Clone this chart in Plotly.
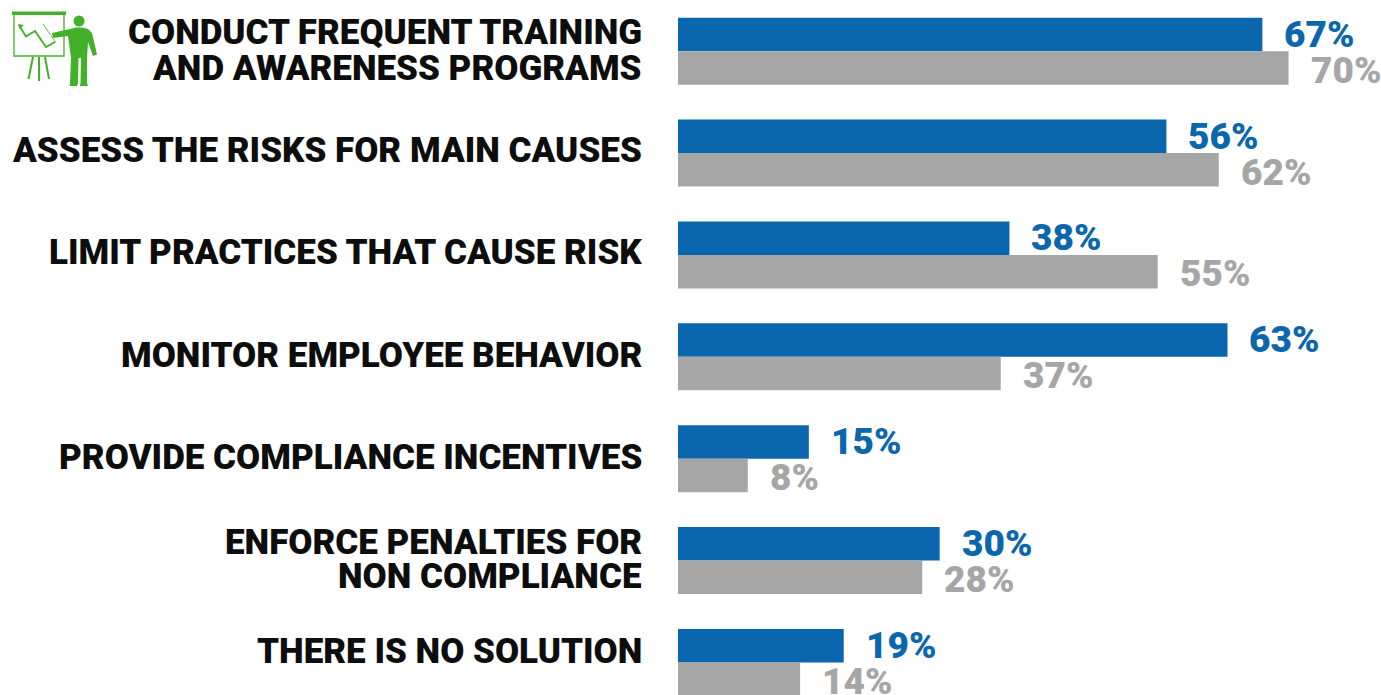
import plotly.graph_objects as go

categories = ["CONDUCT FREQUENT TRAINING AND AWARENESS PROGRAMS", "ASSESS THE RISKS FOR MAIN CAUSES",
              "LIMIT PRACTICES THAT CAUSE RISK", "MONITOR EMPLOYEE BEHAVIOR",
              "PROVIDE COMPLIANCE INCENTIVES", "ENFORCE PENALTIES FOR NON COMPLIANCE", "THERE IS NO SOLUTION"]
label_lines = [["CONDUCT FREQUENT TRAINING", "AND AWARENESS PROGRAMS"], ["ASSESS THE RISKS FOR MAIN CAUSES"],
               ["LIMIT PRACTICES THAT CAUSE RISK"], ["MONITOR EMPLOYEE BEHAVIOR"],
               ["PROVIDE COMPLIANCE INCENTIVES"], ["ENFORCE PENALTIES FOR", "NON COMPLIANCE"], ["THERE IS NO SOLUTION"]]
blue_values = [67, 56, 38, 63, 15, 30, 19]
gray_values = [70, 62, 55, 37, 8, 28, 14]
label_shifts = [[19, -17], [3], [2], [1], [1], [18, -16], [11]]
BLUE = "#0b67ad"
GRAY = "#a6a6a6"
GREEN = "#43b02a"
INK = "#0d0d0d"
FONT = "Roboto, Liberation Sans, sans-serif"
W, H = 1381, 695
LEFT = 678

fig = go.Figure()
for vals, col in [(blue_values, BLUE), (gray_values, GRAY)]:
    fig.add_trace(go.Bar(y=categories, x=vals, orientation="h", marker=dict(color=col, line=dict(width=0)),
                         hoverinfo="skip"))

annotations = []
for cat, b, g in zip(categories, blue_values, gray_values):
    annotations.append(dict(x=b, y=cat, yref="y", xref="x", text=f"{b}%", showarrow=False, xanchor="left",
                            xshift=20, yshift=17, font=dict(size=37, color=BLUE, family=FONT, weight=900)))
    annotations.append(dict(x=g, y=cat, yref="y", xref="x", text=f"{g}%", showarrow=False, xanchor="left",
                            xshift=20, yshift=-19, font=dict(size=37, color=GRAY, family=FONT, weight=900)))
for cat, lines, shifts in zip(categories, label_lines, label_shifts):
    for line, s in zip(lines, shifts):
        annotations.append(dict(x=0, y=cat, yref="y", xref="x", text=line, showarrow=False, xanchor="right",
                                xshift=-34, yshift=s, font=dict(size=35, color=INK, family=FONT, weight=900)))


def px(x):
    return (x - LEFT) / (W - LEFT)


def py(y):
    return 1 - y / H


def path(points, close=True):
    s = "M " + " L ".join(f"{px(x):.5f},{py(y):.5f}" for x, y in points)
    return s + (" Z" if close else "")


def line_shape(points, width, color=GREEN):
    return dict(type="path", xref="paper", yref="paper", path=path(points, False),
                line=dict(color=color, width=width), fillcolor="rgba(0,0,0,0)")


def fill_shape(points):
    return dict(type="path", xref="paper", yref="paper", path=path(points),
                line=dict(width=0), fillcolor=GREEN)


shapes = [
    fill_shape([(12, 11.5), (66, 11.5), (66, 15), (12, 15)]),
    line_shape([(14, 15), (14, 56), (64, 56), (64, 15)], 1.3),
    line_shape([(33, 57), (28.5, 79)], 2),
    line_shape([(39, 57), (39, 81)], 2),
    line_shape([(45, 57), (49, 79)], 2),
    line_shape([(19.5, 26), (26, 36.5), (35, 31), (46, 47), (55, 42)], 1.8),
    fill_shape([(18, 24), (24, 25), (19.5, 29)]),
    line_shape([(43, 24), (56, 43)], 0.8),
    fill_shape([(70, 29), (52, 33), (53, 38), (68, 36), (71, 58), (70, 83), (69.5, 86), (77, 86), (78, 83), (78.5, 58),
                (81, 58), (80.5, 83), (80, 86), (88, 86), (87, 83), (87, 58), (88, 42), (93, 56), (97, 54.5), (92, 33),
                (88, 29), (82, 27.5), (76, 27.5)]),
    dict(type="circle", xref="paper", yref="paper", x0=px(73.5), x1=px(84.5), y0=py(26.5), y1=py(15.5),
         line=dict(width=0), fillcolor=GREEN),
]

fig.update_layout(width=W, height=H, barmode="group", bargap=0.342, bargroupgap=0.0, showlegend=False,
                  paper_bgcolor="white", plot_bgcolor="white", margin=dict(l=LEFT, r=0, t=0, b=0, autoexpand=False),
                  font=dict(family=FONT), annotations=annotations, shapes=shapes)
fig.update_xaxes(visible=False, range=[0, 80.6])
fig.update_yaxes(range=[6.320, -0.503], showgrid=False, showline=False, showticklabels=False, ticks="",
                 automargin=False, zeroline=False)
fig.write_html("out.html", config={"displayModeBar": False},
               post_script="document.body.style.margin='0';document.documentElement.style.overflow='hidden';")
